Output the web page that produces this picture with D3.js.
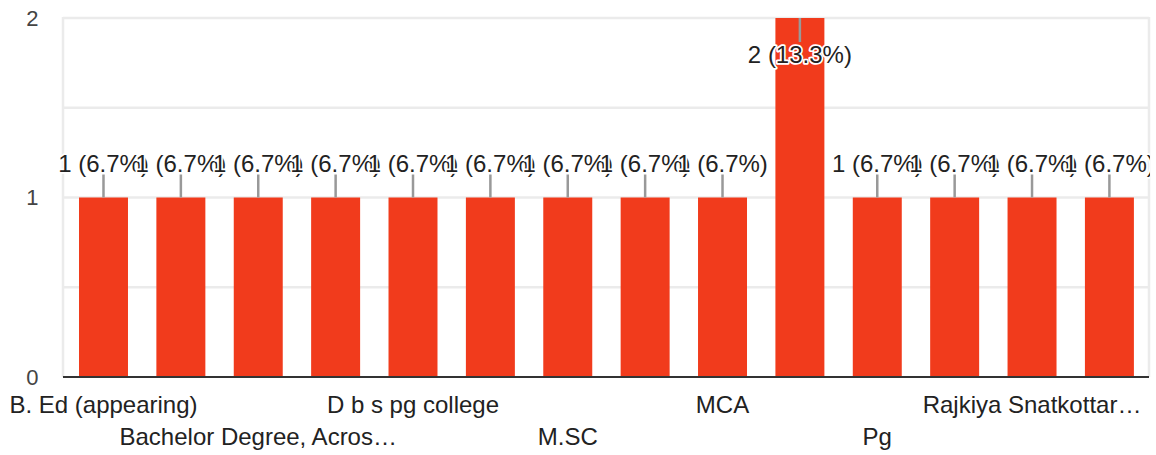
<!DOCTYPE html>
<html>
<head>
<meta charset="utf-8">
<script src="https://cdn.jsdelivr.net/npm/d3@7"></script>
<style>
body{margin:0;background:#fff;}
text{font-family:Arial,"Liberation Sans",sans-serif;}
</style>
</head>
<body>
<div id="chart"></div>
<script>
// answers (only every other name fits under the axis)
var categories=["B. Ed (appearing)","B.A","Bachelor Degree, Acros\u2026","Bsc","D b s pg college","Graduation",
    "M.SC","M.Sc","MCA","Master's degree","Pg","Post Graduation","Rajkiya Snatkottar\u2026","Ug"];
var counts=[1,1,1,1,1,1,1,1,1,2,1,1,1,1];
var yTicks=[0,1,2];
var gridVals=[0.5,1,1.5,2];

var W=1156,H=455;
var total=d3.sum(counts);
var barColor="#f13b1c";

var svg=d3.select("#chart").append("svg").attr("width",W).attr("height",H);

var x=d3.scaleBand()
    .domain(categories)
    .range([64.8,1148.1])
    .paddingInner(0.367)
    .paddingOuter(0.1835);
var y=d3.scaleLinear().domain([0,2]).range([377,18]);

// grid
svg.append("g").selectAll("line")
    .data(gridVals).enter().append("line")
    .attr("x1",63).attr("x2",1149)
    .attr("y1",function(d){return y(d);}).attr("y2",function(d){return y(d);})
    .attr("stroke","#ebebeb").attr("stroke-width",2.5);
svg.append("line").attr("x1",63).attr("x2",63).attr("y1",y(2)-1).attr("y2",y(0))
    .attr("stroke","#ebebeb").attr("stroke-width",2.5);
svg.append("line").attr("x1",1149).attr("x2",1149).attr("y1",y(2)-1).attr("y2",y(0))
    .attr("stroke","#ebebeb").attr("stroke-width",2.5);

// bars
svg.append("g").selectAll("rect")
    .data(counts).enter().append("rect")
    .attr("x",function(d,i){return x(categories[i]);})
    .attr("width",x.bandwidth())
    .attr("y",function(d){return y(d);})
    .attr("height",function(d){return y(0)-y(d);})
    .attr("fill",barColor);

// baseline
svg.append("line").attr("x1",63).attr("x2",1149).attr("y1",y(0)).attr("y2",y(0))
    .attr("stroke","#333").attr("stroke-width",2);

// y tick labels
svg.append("g").selectAll("text")
    .data(yTicks).enter().append("text")
    .attr("x",38.5).attr("y",function(d){return y(d);})
    .attr("dy","0.36em")
    .attr("text-anchor","end")
    .attr("font-size",22)
    .attr("fill","#444")
    .text(function(d){return d;});

// value annotations
svg.append("clipPath").attr("id","clip").append("rect")
    .attr("x",0).attr("y",0).attr("width",1150).attr("height",H);
var ann=svg.append("g").attr("clip-path","url(#clip)");
var fmt=d3.format(".1f");
counts.forEach(function(v,i){
    var cx=x(categories[i])+x.bandwidth()/2;
    var top=y(v);
    var inside=(v===d3.max(counts));
    var l1=inside?top:top-23, l2=inside?top+24:top;
    ann.append("line").attr("x1",cx).attr("x2",cx).attr("y1",l1).attr("y2",l2)
        .attr("stroke","#999").attr("stroke-width",2.5);
    ann.append("text")
        .attr("x",cx).attr("y",inside?top+45:top-26)
        .attr("text-anchor","middle")
        .attr("font-size",24)
        .attr("fill","#222")
        .attr("stroke","#fff").attr("stroke-width",3.5)
        .attr("stroke-linejoin","round")
        .style("paint-order","stroke")
        .text(v+" ("+fmt(v/total*100)+"%)");
});

// category labels, every other one, two staggered rows
svg.append("g").selectAll("text")
    .data(categories.filter(function(d,i){return i%2===0;}))
    .enter().append("text")
    .attr("x",function(d){return x(d)+x.bandwidth()/2;})
    .attr("y",function(d,j){return j%2===0?413:445;})
    .attr("text-anchor","middle")
    .attr("font-size",24)
    .attr("fill","#222")
    .text(function(d){return d;});
</script>
</body>
</html>
